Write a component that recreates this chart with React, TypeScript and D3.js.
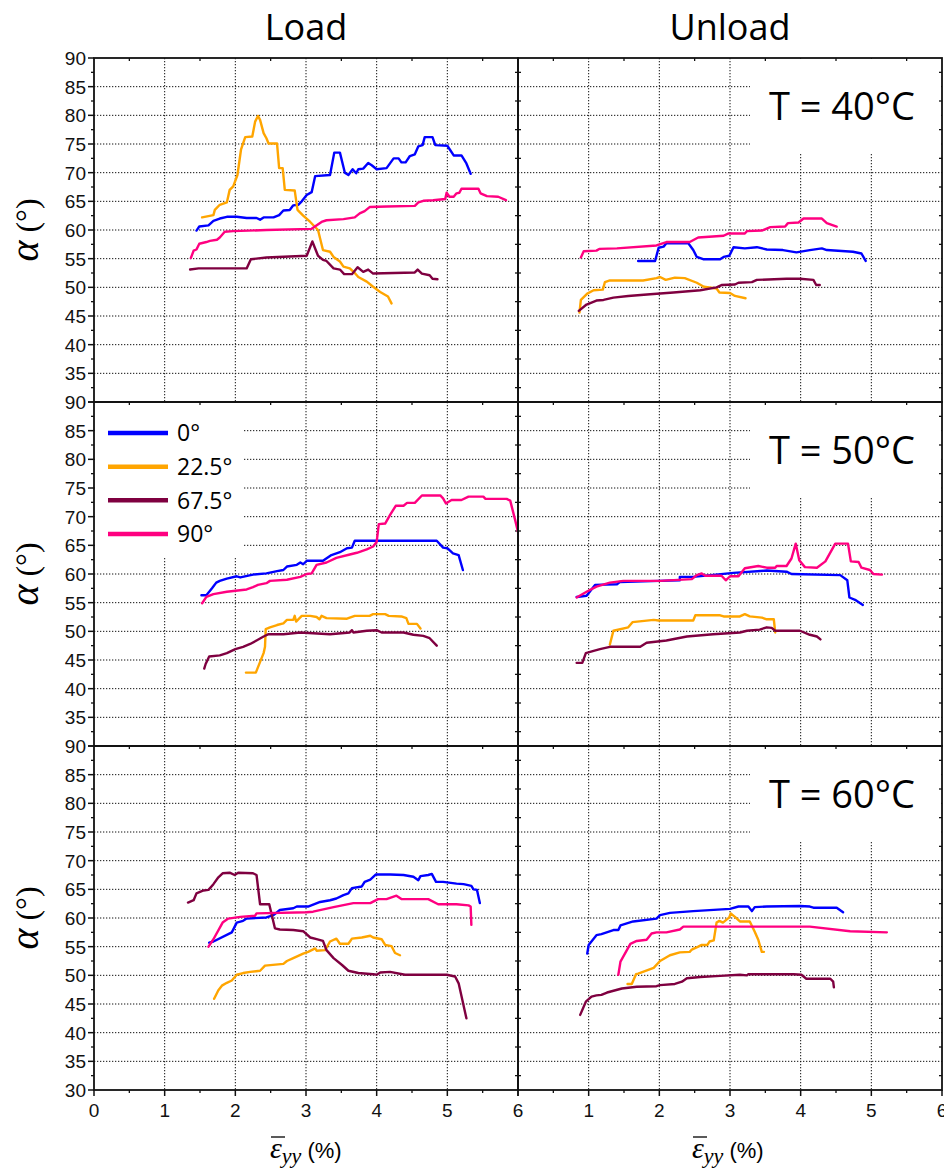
import React from "react";
import * as d3 from "d3";

type Pt = [number, number];

const seriesNames = ["0°", "22.5°", "67.5°", "90°"];
const seriesColors = ["#0000ff", "#ffa500", "#7f0040", "#ff0080"];
const temperatureLabels = ["T = 40°C", "T = 50°C", "T = 60°C"];
const columnTitles = ["Load", "Unload"];
const yTickValues = [30, 35, 40, 45, 50, 55, 60, 65, 70, 75, 80, 85, 90];
const xTickValues = [0, 1, 2, 3, 4, 5, 6];

// ---- T = 40°C ----
const load40_0: Pt[] = [[1.45,59.9],[1.49,60.6],[1.62,60.8],[1.69,61.6],[1.78,62.0],[1.88,62.3],[2.02,62.3],[2.16,62.1],[2.30,62.1],[2.35,61.8],[2.40,62.2],[2.54,62.2],[2.62,62.6],[2.68,63.4],[2.77,63.5],[2.82,64.3],[2.89,64.4],[2.94,65.0],[3.01,66.1],[3.08,66.6],[3.13,69.4],[3.34,69.6],[3.40,73.5],[3.48,73.5],[3.55,70.0],[3.60,69.6],[3.66,70.6],[3.71,69.9],[3.74,70.6],[3.81,70.7],[3.88,71.7],[3.93,71.3],[4.00,70.6],[4.14,70.8],[4.24,72.5],[4.31,72.5],[4.35,71.8],[4.41,71.8],[4.47,72.9],[4.54,73.2],[4.59,74.6],[4.65,74.8],[4.68,76.2],[4.79,76.2],[4.83,74.8],[5.00,74.7],[5.09,73.0],[5.20,73.0],[5.27,71.6],[5.33,69.8]];
const load40_22: Pt[] = [[1.53,62.2],[1.69,62.6],[1.71,63.5],[1.78,64.4],[1.88,64.8],[1.92,67.0],[1.97,67.6],[2.03,69.6],[2.08,74.0],[2.14,76.2],[2.24,76.3],[2.28,78.9],[2.32,79.9],[2.35,79.2],[2.40,76.9],[2.44,76.0],[2.47,75.1],[2.59,75.1],[2.62,70.8],[2.67,70.8],[2.70,67.0],[2.84,66.9],[2.88,63.5],[2.96,62.5],[3.06,61.4],[3.17,60.0],[3.24,56.5],[3.34,56.2],[3.39,55.3],[3.48,54.5],[3.53,53.6],[3.62,53.3],[3.69,52.5],[3.74,51.8],[3.86,51.0],[3.95,50.1],[4.05,49.2],[4.16,48.4],[4.21,47.2]];
const load40_67: Pt[] = [[1.36,53.1],[1.48,53.3],[2.16,53.3],[2.22,54.9],[2.44,55.2],[3.01,55.5],[3.09,58.0],[3.17,55.5],[3.24,54.8],[3.29,54.6],[3.39,53.3],[3.48,53.1],[3.54,52.3],[3.65,52.3],[3.73,53.5],[3.81,52.7],[3.88,53.1],[3.95,52.4],[4.54,52.6],[4.58,53.1],[4.64,52.4],[4.75,52.1],[4.79,51.5],[4.86,51.4]];
const load40_90: Pt[] = [[1.37,55.1],[1.41,56.4],[1.45,56.6],[1.49,57.6],[1.59,57.9],[1.64,58.1],[1.74,58.3],[1.78,58.7],[1.85,59.7],[1.97,59.8],[2.44,60.0],[3.08,60.2],[3.22,61.4],[3.29,61.7],[3.53,61.9],[3.69,62.2],[3.76,62.9],[3.83,63.3],[3.90,64.0],[4.14,64.1],[4.54,64.2],[4.59,64.8],[4.66,65.1],[4.80,65.2],[4.97,65.4],[4.99,66.5],[5.03,65.8],[5.09,65.8],[5.13,66.4],[5.17,66.5],[5.20,67.2],[5.44,67.2],[5.47,66.4],[5.56,65.9],[5.72,65.8],[5.83,65.2]];
const unload40_0: Pt[] = [[1.70,54.6],[1.94,54.6],[1.99,56.9],[2.06,57.1],[2.10,57.7],[2.41,57.7],[2.48,56.5],[2.53,55.3],[2.62,54.9],[2.86,54.9],[2.91,55.3],[2.99,55.5],[3.05,57.0],[3.21,56.8],[3.38,57.0],[3.52,56.6],[3.75,56.5],[3.94,56.1],[4.13,56.5],[4.30,56.8],[4.37,56.5],[4.74,56.2],[4.86,55.9],[4.92,54.6]];
const unload40_22: Pt[] = [[0.87,45.6],[0.89,47.8],[0.98,48.9],[1.07,49.5],[1.20,49.6],[1.23,50.9],[1.30,51.2],[1.77,51.2],[1.96,51.6],[2.01,51.8],[2.09,51.3],[2.22,51.7],[2.36,51.6],[2.53,50.8],[2.63,50.1],[2.81,49.8],[2.85,49.1],[3.00,49.0],[3.07,48.5],[3.22,48.1]];
const unload40_67: Pt[] = [[0.86,45.9],[0.97,47.0],[1.11,47.7],[1.21,47.8],[1.35,48.2],[1.56,48.5],[1.87,48.8],[2.20,49.1],[2.58,49.5],[2.81,50.0],[2.88,50.4],[3.07,50.5],[3.12,50.8],[3.31,50.9],[3.38,51.3],[3.80,51.5],[3.99,51.5],[4.18,51.3],[4.22,50.4],[4.27,50.4]];
const unload40_90: Pt[] = [[0.89,55.2],[0.93,56.3],[1.11,56.4],[1.15,56.7],[1.40,56.8],[1.96,57.3],[2.10,57.9],[2.43,57.9],[2.55,58.7],[2.91,59.0],[2.98,59.4],[3.21,59.4],[3.24,59.8],[3.45,59.9],[3.57,60.5],[3.78,60.6],[3.82,61.2],[3.97,61.3],[4.04,62.0],[4.30,62.0],[4.37,61.2],[4.51,60.6]];

// ---- T = 50°C ----
const load50_0: Pt[] = [[1.52,56.3],[1.59,56.3],[1.67,57.5],[1.73,58.5],[1.78,58.8],[1.88,59.2],[2.02,59.6],[2.07,59.4],[2.25,59.9],[2.44,60.1],[2.59,60.5],[2.68,60.7],[2.73,61.3],[2.87,61.6],[2.92,62.0],[2.96,61.7],[3.01,62.3],[3.24,62.3],[3.36,63.3],[3.48,63.8],[3.58,64.5],[3.65,64.6],[3.69,65.8],[4.85,65.8],[4.94,64.6],[5.00,64.5],[5.08,63.6],[5.16,63.3],[5.22,60.7]];
const load50_22: Pt[] = [[2.15,42.8],[2.29,42.8],[2.40,46.2],[2.42,47.3],[2.43,50.4],[2.49,50.7],[2.59,51.1],[2.68,51.4],[2.73,52.0],[2.82,52.0],[2.84,52.7],[2.86,51.7],[2.94,52.7],[3.06,52.7],[3.15,52.5],[3.19,52.1],[3.22,52.7],[3.29,52.3],[3.58,52.2],[3.69,52.7],[3.90,52.7],[3.95,53.0],[4.12,53.0],[4.17,52.7],[4.35,52.6],[4.42,52.3],[4.45,51.3],[4.57,51.3],[4.62,50.5]];
const load50_67: Pt[] = [[1.56,43.5],[1.58,44.3],[1.63,45.6],[1.78,45.8],[1.88,46.2],[2.00,46.9],[2.11,47.3],[2.21,47.8],[2.30,48.4],[2.40,49.1],[2.47,49.5],[2.68,49.5],[2.92,49.8],[3.34,49.5],[3.62,49.8],[3.65,50.2],[3.67,49.8],[3.86,50.1],[4.00,50.2],[4.07,49.8],[4.38,49.8],[4.52,49.4],[4.66,49.2],[4.75,48.8],[4.85,47.5]];
const load50_90: Pt[] = [[1.53,54.9],[1.59,56.0],[1.69,56.5],[1.88,56.9],[2.16,57.3],[2.25,57.7],[2.32,58.1],[2.44,58.4],[2.49,58.8],[2.73,59.0],[2.92,59.5],[3.01,60.0],[3.08,60.1],[3.15,61.6],[3.29,62.0],[3.43,62.8],[3.62,63.4],[3.72,63.7],[3.86,64.3],[3.95,64.8],[4.00,65.6],[4.03,68.7],[4.12,68.8],[4.19,70.3],[4.27,71.9],[4.38,71.9],[4.43,72.4],[4.54,72.4],[4.64,73.7],[4.90,73.7],[4.94,73.2],[4.98,72.3],[5.06,72.9],[5.20,72.9],[5.30,73.5],[5.51,73.5],[5.54,73.1],[5.84,73.1],[5.89,72.8],[5.96,69.4],[6.01,66.8]];
const unload50_0: Pt[] = [[0.83,56.0],[0.97,56.2],[1.09,58.1],[1.40,58.2],[1.44,58.6],[2.01,58.8],[2.29,58.9],[2.29,59.5],[2.48,59.5],[3.05,60.2],[3.52,60.6],[3.80,60.4],[3.87,60.0],[4.56,59.8],[4.66,58.9],[4.69,55.9],[4.77,55.5],[4.88,54.6]];
const unload50_22: Pt[] = [[1.30,47.7],[1.35,50.1],[1.56,50.7],[1.62,51.6],[1.92,52.0],[1.99,51.9],[2.48,51.9],[2.51,52.8],[2.86,52.8],[2.91,52.6],[3.14,52.6],[3.21,53.0],[3.28,52.6],[3.45,52.4],[3.52,52.1],[3.62,52.1],[3.64,49.8]];
const unload50_67: Pt[] = [[0.83,44.5],[0.91,44.5],[0.96,46.2],[1.07,46.6],[1.16,46.9],[1.30,47.3],[1.73,47.3],[1.82,48.0],[2.10,48.4],[2.39,49.1],[2.76,49.5],[3.14,49.8],[3.24,50.1],[3.42,50.3],[3.52,50.7],[3.59,50.6],[3.64,50.1],[3.99,50.1],[4.13,49.4],[4.23,49.1],[4.28,48.6]];
const unload50_90: Pt[] = [[0.83,55.9],[0.97,56.9],[1.11,57.8],[1.30,58.5],[1.49,58.8],[2.01,58.8],[2.46,59.1],[2.53,59.8],[2.60,60.1],[2.65,59.7],[2.88,59.7],[2.94,58.9],[3.00,59.6],[3.12,59.6],[3.21,61.0],[3.40,61.4],[3.52,61.1],[3.64,61.1],[3.66,61.4],[3.80,61.4],[3.87,62.7],[3.93,65.3],[3.98,62.4],[4.06,61.2],[4.23,61.1],[4.35,62.2],[4.49,65.3],[4.67,65.3],[4.71,62.2],[4.82,62.1],[4.86,61.1],[4.98,60.7],[5.03,60.0],[5.15,59.9]];

// ---- T = 60°C ----
const load60_0: Pt[] = [[1.63,55.7],[1.69,55.9],[1.95,57.5],[2.02,59.2],[2.11,59.5],[2.16,59.9],[2.44,60.1],[2.54,60.5],[2.63,61.4],[2.82,61.7],[2.87,62.0],[3.03,62.0],[3.20,62.8],[3.34,63.1],[3.43,63.4],[3.53,64.0],[3.60,64.3],[3.65,65.2],[3.79,65.5],[3.83,66.3],[3.91,66.7],[3.99,67.6],[4.19,67.6],[4.38,67.5],[4.52,67.2],[4.59,66.6],[4.62,67.3],[4.73,67.5],[4.78,67.7],[4.84,66.3],[4.94,66.3],[5.13,66.0],[5.23,65.9],[5.34,65.6],[5.37,65.0],[5.42,64.9],[5.46,62.6]];
const load60_22: Pt[] = [[1.70,45.9],[1.76,47.4],[1.81,48.2],[1.88,48.7],[1.95,49.1],[2.02,50.1],[2.11,50.4],[2.21,50.6],[2.35,50.8],[2.42,51.7],[2.68,52.0],[2.73,52.5],[2.82,53.0],[2.96,53.8],[3.03,54.1],[3.13,54.7],[3.15,54.3],[3.27,54.4],[3.34,55.9],[3.43,56.4],[3.48,55.5],[3.60,55.5],[3.65,56.4],[3.79,56.6],[3.91,56.9],[3.95,56.6],[4.07,56.3],[4.12,55.3],[4.21,55.1],[4.26,53.9],[4.33,53.5]];
const load60_67: Pt[] = [[1.33,62.7],[1.41,63.1],[1.45,64.3],[1.55,64.8],[1.62,64.9],[1.69,65.9],[1.76,67.1],[1.82,67.8],[1.92,67.9],[1.99,67.5],[2.04,67.9],[2.25,67.8],[2.30,67.5],[2.35,62.4],[2.48,62.4],[2.56,58.2],[2.63,58.0],[2.82,57.9],[2.96,57.7],[3.06,56.6],[3.15,56.3],[3.24,56.0],[3.29,54.4],[3.39,53.0],[3.51,51.8],[3.60,50.8],[3.74,50.4],[3.95,50.2],[4.00,50.1],[4.05,50.5],[4.19,50.6],[4.40,50.1],[4.99,50.1],[5.11,49.8],[5.16,48.6],[5.27,42.5]];
const load60_90: Pt[] = [[1.62,55.0],[1.69,56.3],[1.82,59.2],[1.90,59.9],[2.07,60.2],[2.28,60.4],[2.30,60.8],[3.01,61.0],[3.10,61.1],[3.39,61.9],[3.67,62.6],[3.91,62.6],[4.02,63.3],[4.14,63.3],[4.28,63.9],[4.35,63.3],[4.73,63.3],[4.87,62.4],[5.13,62.4],[5.30,62.2],[5.33,62.0],[5.34,58.8]];
const unload60_0: Pt[] = [[0.98,53.8],[1.00,55.3],[1.11,57.0],[1.18,57.2],[1.35,57.9],[1.42,57.9],[1.45,58.7],[1.63,59.4],[1.96,59.9],[2.01,60.5],[2.15,60.9],[2.48,61.2],[3.00,61.6],[3.12,62.0],[3.26,62.0],[3.31,61.2],[3.35,61.9],[3.52,62.0],[3.99,62.1],[4.13,62.0],[4.18,61.8],[4.51,61.8],[4.60,61.0]];
const unload60_22: Pt[] = [[1.55,48.5],[1.61,48.5],[1.67,50.2],[1.70,50.3],[1.92,51.3],[2.01,52.5],[2.15,53.5],[2.29,54.0],[2.43,54.1],[2.46,54.5],[2.55,55.0],[2.60,55.3],[2.68,55.3],[2.71,55.9],[2.77,56.1],[2.81,59.2],[2.85,59.5],[2.90,59.2],[2.99,60.1],[3.01,60.8],[3.07,60.2],[3.14,59.4],[3.28,59.4],[3.35,57.6],[3.40,56.2],[3.45,54.1],[3.48,54.1]];
const unload60_67: Pt[] = [[0.88,43.1],[0.96,45.4],[1.04,46.3],[1.11,46.5],[1.18,46.6],[1.26,47.0],[1.47,47.7],[1.68,48.0],[1.96,48.1],[2.01,48.3],[2.22,48.5],[2.32,48.9],[2.39,49.5],[2.58,49.7],[2.86,49.9],[3.14,50.1],[3.24,50.0],[3.26,50.2],[3.90,50.2],[4.01,50.1],[4.08,49.4],[4.42,49.4],[4.46,48.9],[4.47,47.9]];
const unload60_90: Pt[] = [[1.42,50.1],[1.45,52.4],[1.59,55.5],[1.68,56.0],[1.82,56.2],[1.89,57.3],[1.96,57.5],[2.10,57.5],[2.29,58.0],[2.34,58.5],[4.13,58.5],[4.70,57.7],[5.22,57.5]];

const panelData: Pt[][][][] = [
  [[load40_0, load40_22, load40_67, load40_90], [unload40_0, unload40_22, unload40_67, unload40_90]],
  [[load50_0, load50_22, load50_67, load50_90], [unload50_0, unload50_22, unload50_67, unload50_90]],
  [[load60_0, load60_22, load60_67, load60_90], [unload60_0, unload60_22, unload60_67, unload60_90]],
];

const W = 944;
const H = 1169;
const colX = [94, 518];
const panelW = 424;
const rowY = [58, 402, 746];
const panelH = 344;
const AXIS_FONT = "'Liberation Sans', Arial, sans-serif";
const TITLE_FONT = "'Open Sans', 'Noto Sans', sans-serif";
const MATH_FONT = "'Liberation Serif', 'DejaVu Serif', serif";

function Panel({ row, col }: { row: number; col: number }) {
  const x0 = colX[col];
  const y0 = rowY[row];
  const x = d3.scaleLinear().domain([0, 6]).range([x0, x0 + panelW]);
  const y = d3.scaleLinear().domain([30, 90]).range([y0 + panelH, y0]);
  const line = d3.line<Pt>().x((d) => x(d[0])).y((d) => y(d[1]));
  const clipId = `clip-${row}-${col}`;
  const minorX = d3.range(0.5, 6, 1);
  const minorY = d3.range(32.5, 90, 5);
  const gridY = yTickValues.filter((v) => v > 30 && v < 90);
  const gridX = xTickValues.filter((v) => v > 0 && v < 6);
  const order = [0, 1, 2, 3];
  return (
    <g>
      <defs>
        <clipPath id={clipId}>
          <rect x={x0} y={y0} width={panelW} height={panelH} />
        </clipPath>
      </defs>
      {gridY.map((v) => (
        <line key={"gy" + v} x1={x0} x2={x0 + panelW} y1={y(v)} y2={y(v)} stroke="#111" strokeWidth={1} strokeDasharray="1.3,1.7" />
      ))}
      {gridX.map((v) => (
        <line key={"gx" + v} x1={x(v)} x2={x(v)} y1={y0} y2={y0 + panelH} stroke="#111" strokeWidth={1} strokeDasharray="1.3,1.7" />
      ))}
      {col === 1 && <rect x={750} y={y0 + 1} width={x0 + panelW - 751} height={95} fill="#fff" />}
      {col === 0 && row === 1 && <rect x={x0 + 1} y={y0 + 1} width={148} height={154} fill="#fff" />}
      {minorX.map((v) => (
        <line key={"mt" + v} x1={x(v)} x2={x(v)} y1={y0} y2={y0 + 3} stroke="#000" strokeWidth={1.2} />
      ))}
      {minorY.map((v) => (
        <g key={"mr" + v}>
          <line x1={x0 + panelW} x2={x0 + panelW - 3} y1={y(v)} y2={y(v)} stroke="#000" strokeWidth={1.2} />
          {col === 1 && <line x1={x0} x2={x0 + 3} y1={y(v)} y2={y(v)} stroke="#000" strokeWidth={1.2} />}
        </g>
      ))}
      <g clipPath={`url(#${clipId})`}>
        {order.map((i) => (
          <path key={i} d={line(panelData[row][col][i]) || ""} fill="none" stroke={seriesColors[i]} strokeWidth={2.4} strokeLinejoin="round" strokeLinecap="round" />
        ))}
      </g>
      <rect x={x0} y={y0} width={panelW} height={panelH} fill="none" stroke="#111" strokeWidth={1.8} />
      {col === 0 && (
        <g>
          {yTickValues.map((v) => (
            <line key={"yt" + v} x1={x0 - 6} x2={x0} y1={y(v)} y2={y(v)} stroke="#111" strokeWidth={1.5} />
          ))}
          {minorY.map((v) => (
            <line key={"ymt" + v} x1={x0 - 3} x2={x0} y1={y(v)} y2={y(v)} stroke="#111" strokeWidth={1.3} />
          ))}
          {yTickValues
            .filter((v) => v > 30 || row === 2)
            .map((v) => (
              <text key={"yl" + v} x={x0 - 8} y={y(v)} dy="0.36em" textAnchor="end" fontFamily={AXIS_FONT} fontSize={19} fill="#111">
                {v}
              </text>
            ))}
        </g>
      )}
      {row === 2 && (
        <g>
          {xTickValues.map((v) => (
            <line key={"xt" + v} x1={x(v)} x2={x(v)} y1={y0 + panelH} y2={y0 + panelH + 6} stroke="#111" strokeWidth={1.5} />
          ))}
          {minorX.map((v) => (
            <line key={"xmt" + v} x1={x(v)} x2={x(v)} y1={y0 + panelH} y2={y0 + panelH + 3} stroke="#111" strokeWidth={1.3} />
          ))}
          {xTickValues
            .filter((v) => !(col === 1 && v === 0))
            .map((v) => (
              <text key={"xl" + v} x={x(v)} y={y0 + panelH + 27} textAnchor="middle" fontFamily={AXIS_FONT} fontSize={19} fill="#111">
                {v}
              </text>
            ))}
        </g>
      )}
      {col === 1 && (
        <text x={915} y={y0 + 62} textAnchor="end" fontFamily={TITLE_FONT} fontSize={38} fill="#000">
          {temperatureLabels[row]}
        </text>
      )}
    </g>
  );
}

export default function App() {
  const legendY = d3.scaleLinear().domain([0, 3]).range([433, 534]);
  return (
    <svg width={W} height={H} style={{ position: "absolute", left: 0, top: 0, background: "#fff" }}>
      <rect x={0} y={0} width={W} height={H} fill="#fff" />
      {columnTitles.map((t, i) => (
        <text key={t} x={colX[i] + panelW / 2} y={40} textAnchor="middle" fontFamily={TITLE_FONT} fontSize={36} fill="#000">
          {t}
        </text>
      ))}
      {[0, 1, 2].map((r) => (
        <g key={r}>
          <Panel row={r} col={0} />
          <Panel row={r} col={1} />
        </g>
      ))}
      {seriesNames.map((s, i) => (
        <g key={s}>
          <line x1={108} x2={168} y1={legendY(i)} y2={legendY(i)} stroke={seriesColors[i]} strokeWidth={4.5} />
          <text x={177} y={legendY(i)} dy="0.36em" fontFamily={TITLE_FONT} fontSize={23} fill="#000">
            {s}
          </text>
        </g>
      ))}
      {rowY.map((ry, i) => (
        <text key={"yt" + i} transform={`translate(38, ${ry + panelH / 2}) rotate(-90)`} textAnchor="middle" fill="#000">
          <tspan fontFamily={MATH_FONT} fontStyle="italic" fontSize={40}>α</tspan>
          <tspan fontFamily={MATH_FONT} fontSize={32}> (°)</tspan>
        </text>
      ))}
      {colX.map((cx, i) => {
        const sx = cx + 176 - (i === 1 ? 2 : 0);
        return (
          <g key={"xt" + i}>
            <line x1={sx + 1} x2={sx + 15} y1={1137} y2={1137} stroke="#000" strokeWidth={1.3} />
            <text x={sx} y={1158} fontFamily={MATH_FONT} fontStyle="italic" fill="#000">
              <tspan fontSize={30}>ε</tspan>
              <tspan fontSize={22} dy={5}>yy</tspan>
              <tspan fontFamily={AXIS_FONT} fontStyle="normal" fontSize={22} dy={-5}> (%)</tspan>
            </text>
          </g>
        );
      })}
    </svg>
  );
}
